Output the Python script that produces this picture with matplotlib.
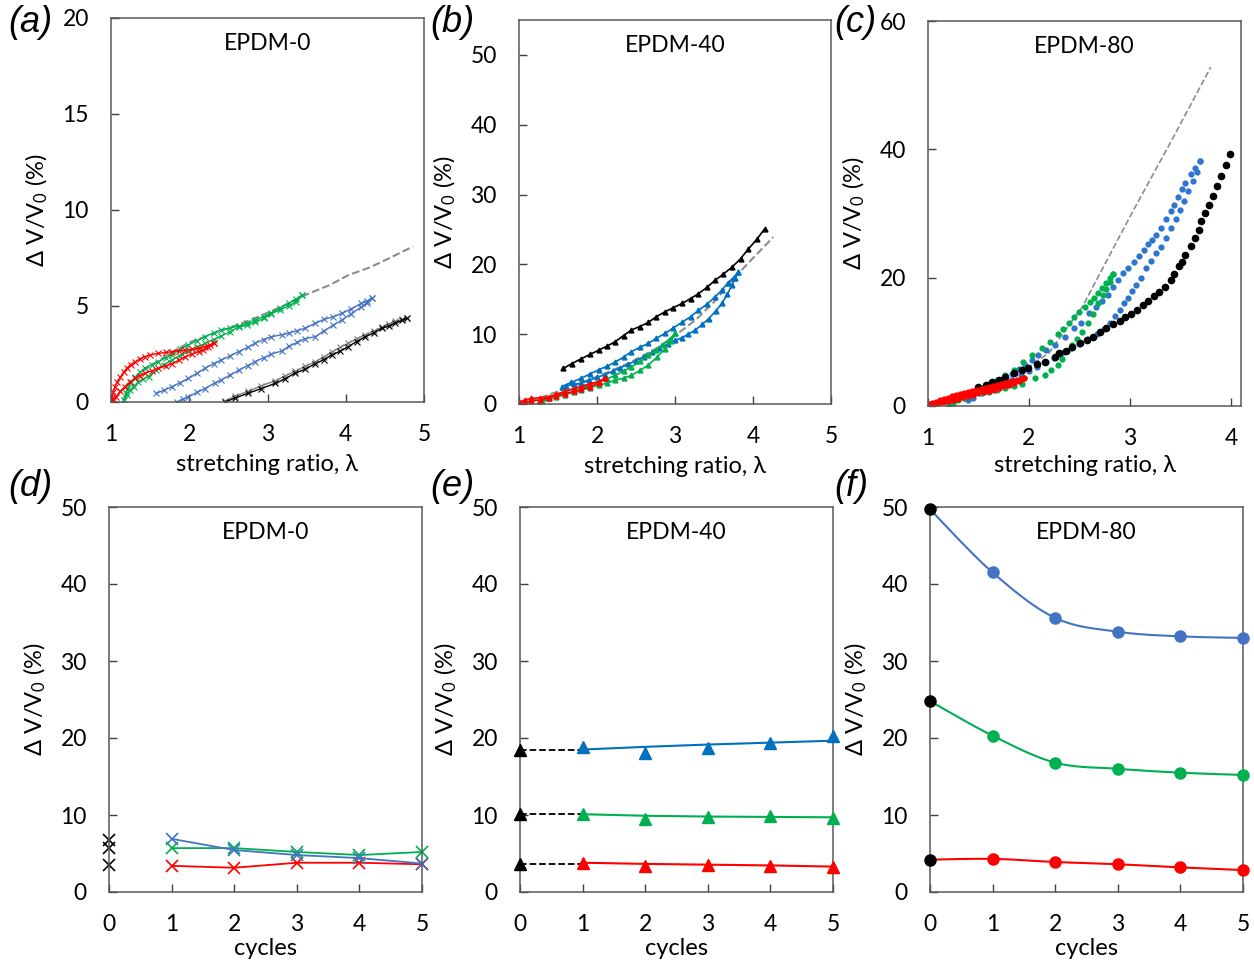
import numpy as np
import matplotlib
matplotlib.use("Agg")
import matplotlib.pyplot as plt

plt.rcParams['font.family'] = ['Lato', 'DejaVu Sans']
plt.rcParams['mathtext.fontset'] = 'custom'
plt.rcParams['mathtext.rm'] = 'Lato'
plt.rcParams['mathtext.it'] = 'Lato:italic'

RED = '#FF0000'
GREEN = '#00B050'
BLUE_A = '#4472C4'
BLUE_B = '#0070C0'
BLUE_C = '#2E75D0'
GRAY = '#8C8C8C'

# ---------------- (a) EPDM-0 ----------------
a_dash_x = [1.0, 1.2, 1.4, 1.7, 2.0, 2.4, 2.8, 3.2, 3.5, 3.8, 4.03, 4.3, 4.46, 4.86]
a_dash_y = [0.0, 0.9, 1.6, 2.4, 3.1, 3.7, 4.3, 5.0, 5.6, 6.1, 6.6, 7.0, 7.3, 8.1]

a_red_up_x = [1.00, 1.01, 1.03, 1.05, 1.08, 1.12, 1.16, 1.20, 1.25, 1.31, 1.37, 1.43, 1.50, 1.60, 1.70, 1.78, 1.87, 1.95, 2.04, 2.12, 2.20, 2.26, 2.31]
a_red_up_y = [0.0, 0.2, 0.5, 0.8, 1.05, 1.3, 1.55, 1.75, 1.95, 2.1, 2.25, 2.36, 2.45, 2.53, 2.58, 2.62, 2.66, 2.7, 2.74, 2.8, 2.88, 2.97, 3.06]
a_red_dn_x = [2.31, 2.24, 2.18, 2.12, 2.04, 1.95, 1.87, 1.78, 1.70, 1.60, 1.52, 1.43, 1.37, 1.31, 1.24, 1.18, 1.12, 1.07, 1.03, 1.01]
a_red_dn_y = [3.06, 2.85, 2.72, 2.62, 2.5, 2.36, 2.18, 2.0, 1.88, 1.75, 1.62, 1.5, 1.38, 1.23, 1.02, 0.8, 0.55, 0.28, 0.1, 0.0]

a_grn_up_x = [1.16, 1.19, 1.22, 1.26, 1.31, 1.37, 1.43, 1.52, 1.60, 1.70, 1.78, 1.88, 1.99, 2.10, 2.20, 2.31, 2.41, 2.52, 2.63, 2.74, 2.84, 2.95, 3.05, 3.16, 3.27, 3.36, 3.44]
a_grn_up_y = [0.1, 0.45, 0.75, 1.05, 1.3, 1.55, 1.75, 1.95, 2.1, 2.3, 2.45, 2.75, 2.97, 3.2, 3.4, 3.6, 3.75, 3.85, 3.95, 4.1, 4.27, 4.45, 4.65, 4.9, 5.14, 5.35, 5.57]
a_grn_dn_x = [3.44, 3.36, 3.27, 3.16, 3.05, 2.95, 2.84, 2.74, 2.63, 2.52, 2.41, 2.31, 2.20, 2.10, 1.99, 1.88, 1.78, 1.68, 1.58, 1.48, 1.41, 1.35, 1.29, 1.24, 1.20, 1.16]
a_grn_dn_y = [5.57, 5.2, 5.0, 4.8, 4.6, 4.35, 4.15, 4.0, 3.9, 3.65, 3.45, 3.25, 3.06, 2.85, 2.65, 2.42, 2.19, 1.95, 1.65, 1.32, 1.2, 1.06, 0.8, 0.6, 0.35, 0.1]

a_blu_up_x = [1.58, 1.68, 1.78, 1.88, 1.99, 2.10, 2.20, 2.31, 2.41, 2.52, 2.63, 2.75, 2.84, 2.95, 3.05, 3.18, 3.27, 3.38, 3.48, 3.61, 3.72, 3.84, 3.95, 4.07, 4.20, 4.27, 4.33]
a_blu_up_y = [0.45, 0.62, 0.8, 1.0, 1.23, 1.5, 1.75, 2.0, 2.19, 2.4, 2.62, 2.85, 3.06, 3.25, 3.4, 3.5, 3.58, 3.72, 3.84, 4.1, 4.3, 4.44, 4.62, 4.85, 5.14, 5.25, 5.4]
a_blu_dn_x = [4.33, 4.27, 4.20, 4.07, 3.95, 3.84, 3.72, 3.61, 3.48, 3.38, 3.27, 3.18, 3.05, 2.95, 2.84, 2.75, 2.63, 2.52, 2.41, 2.33, 2.20, 2.10, 1.99, 1.92, 1.84]
a_blu_dn_y = [5.4, 5.15, 4.95, 4.6, 4.27, 4.0, 3.7, 3.4, 3.3, 3.1, 2.9, 2.65, 2.5, 2.3, 2.1, 1.9, 1.65, 1.4, 1.15, 1.0, 0.7, 0.5, 0.28, 0.15, 0.0]

a_blk_x = [2.46, 2.58, 2.75, 2.92, 3.10, 3.22, 3.35, 3.48, 3.61, 3.72, 3.82, 3.93, 4.03, 4.14, 4.25, 4.36, 4.46, 4.55, 4.63, 4.72, 4.78]
a_blk_y = [0.0, 0.2, 0.45, 0.7, 0.97, 1.2, 1.5, 1.7, 2.0, 2.2, 2.45, 2.65, 2.88, 3.15, 3.4, 3.6, 3.84, 3.95, 4.1, 4.25, 4.36]
a_blk2_y = [0.05, 0.3, 0.55, 0.85, 1.1, 1.35, 1.6, 1.85, 2.1, 2.35, 2.6, 2.85, 3.05, 3.3, 3.5, 3.7, 3.9, 4.05, 4.2, 4.3, 4.4]

# ---------------- (b) EPDM-40 ----------------
b_dash_x = [1.0, 1.3, 1.6, 2.0, 2.4, 2.8, 3.0, 3.26, 3.5, 3.73, 4.0, 4.26]
b_dash_y = [0.0, 1.0, 2.2, 3.9, 5.8, 8.2, 9.8, 12.0, 14.6, 17.7, 20.9, 23.9]

b_blk_x = [1.57, 1.68, 1.80, 1.91, 2.02, 2.13, 2.23, 2.34, 2.44, 2.55, 2.66, 2.76, 2.87, 2.98, 3.09, 3.20, 3.30, 3.41, 3.51, 3.62, 3.73, 3.84, 3.94, 4.05, 4.15]
b_blk_y = [5.1, 5.8, 6.5, 7.1, 7.7, 8.3, 8.9, 9.8, 10.6, 11.1, 11.7, 12.5, 13.2, 13.8, 14.4, 15.1, 15.8, 16.7, 17.7, 18.6, 19.6, 20.8, 22.2, 23.6, 25.1]

b_blu_up_x = [1.55, 1.67, 1.80, 1.91, 2.02, 2.13, 2.23, 2.34, 2.44, 2.55, 2.66, 2.76, 2.87, 2.98, 3.09, 3.20, 3.30, 3.41, 3.51, 3.60, 3.68, 3.75, 3.81]
b_blu_up_y = [2.5, 3.1, 3.7, 4.3, 4.9, 5.4, 6.0, 6.7, 7.5, 8.1, 8.7, 9.4, 10.1, 10.9, 11.7, 12.5, 13.4, 14.3, 15.3, 16.3, 17.4, 18.1, 18.9]
b_blu_dn_x = [3.81, 3.77, 3.73, 3.67, 3.60, 3.52, 3.43, 3.35, 3.26, 3.17, 3.09, 3.00, 2.91, 2.80, 2.70, 2.60, 2.50, 2.40, 2.30, 2.20, 2.10, 2.00, 1.90, 1.80, 1.70, 1.60]
b_blu_dn_y = [18.9, 18.0, 17.0, 15.7, 14.4, 13.3, 12.2, 11.4, 10.6, 10.0, 9.5, 9.1, 8.6, 8.0, 7.4, 6.8, 6.2, 5.7, 5.2, 4.7, 4.2, 3.8, 3.4, 3.0, 2.8, 2.6]

b_grn_up_x = [1.25, 1.35, 1.46, 1.59, 1.72, 1.85, 2.02, 2.13, 2.23, 2.34, 2.44, 2.55, 2.66, 2.75, 2.83, 2.92, 3.00]
b_grn_up_y = [0.1, 0.8, 1.3, 1.8, 2.2, 2.6, 3.2, 3.6, 4.1, 4.7, 5.3, 6.1, 7.0, 7.7, 8.4, 9.2, 10.1]
b_grn_dn_x = [3.00, 2.95, 2.87, 2.77, 2.66, 2.55, 2.44, 2.34, 2.23, 2.13, 2.02, 1.91, 1.80, 1.70, 1.59, 1.48, 1.38, 1.30, 1.25]
b_grn_dn_y = [10.1, 9.0, 7.9, 6.7, 5.6, 4.8, 4.1, 3.7, 3.4, 3.0, 2.7, 2.35, 2.0, 1.7, 1.3, 1.0, 0.8, 0.4, 0.1]

b_red_up_x = [1.00, 1.08, 1.16, 1.27, 1.38, 1.48, 1.59, 1.70, 1.80, 1.91, 2.02, 2.10]
b_red_up_y = [0.3, 0.6, 0.8, 0.9, 1.0, 1.4, 1.8, 2.2, 2.5, 2.9, 3.2, 3.7]
b_red_dn_x = [2.10, 2.02, 1.91, 1.80, 1.70, 1.59, 1.48, 1.38, 1.27, 1.16, 1.08, 1.00]
b_red_dn_y = [3.7, 3.0, 2.5, 2.1, 1.8, 1.5, 1.2, 0.9, 0.6, 0.4, 0.2, 0.1]

# ---------------- (c) EPDM-80 ----------------
c_dash_x = [1.0, 1.5, 1.9, 2.2, 2.53, 3.0, 3.42, 3.80]
c_dash_y = [0.0, 2.2, 5.0, 8.3, 15.5, 29.5, 41.6, 52.8]

c_blk_x = [1.50, 1.57, 1.63, 1.70, 1.76, 1.85, 1.93, 1.99, 2.08, 2.16, 2.26, 2.30, 2.37, 2.43, 2.51, 2.57, 2.63, 2.70, 2.76, 2.83, 2.90, 2.95, 3.01,
           3.07, 3.13, 3.18, 3.24, 3.29, 3.35, 3.41, 3.44, 3.49, 3.52, 3.55, 3.60, 3.64, 3.68, 3.70, 3.74, 3.78, 3.82, 3.86, 3.90, 3.95, 3.99]
c_blk_y = [2.9, 3.3, 3.8, 4.1, 4.5, 5.1, 5.6, 6.0, 6.6, 6.9, 7.7, 8.2, 8.6, 9.2, 9.8, 10.3, 10.7, 11.5, 12.1, 12.8, 13.3, 13.9, 14.4,
           15.0, 15.7, 16.4, 17.1, 17.7, 18.6, 19.7, 20.5, 21.8, 22.5, 23.6, 24.9, 26.2, 27.5, 28.8, 30.1, 31.4, 32.8, 34.3, 35.9, 37.5, 39.2]

c_blu_up_x = [1.37, 1.45, 1.50, 1.58, 1.66, 1.75, 1.83, 1.90, 1.96, 2.03, 2.09, 2.17, 2.26, 2.36, 2.45, 2.52, 2.59, 2.66, 2.72, 2.78,
              2.83, 2.88, 2.93, 2.98, 3.04, 3.09, 3.14, 3.18, 3.22, 3.26, 3.31, 3.36, 3.41, 3.44, 3.48, 3.52, 3.55, 3.60, 3.64, 3.69]
c_blu_up_y = [1.2, 1.8, 2.2, 2.9, 3.5, 4.3, 5.0, 5.8, 6.4, 7.2, 8.0, 8.75, 9.5, 10.8, 12.1, 12.9, 14.5, 15.4, 16.3, 17.3,
              18.5, 19.7, 20.7, 21.5, 22.5, 23.3, 24.3, 25.3, 25.9, 26.7, 27.8, 29.1, 30.4, 31.4, 32.5, 33.8, 34.8, 36.1, 37.1, 38.2]
c_blu_dn_x = [3.69, 3.66, 3.62, 3.58, 3.54, 3.50, 3.46, 3.41, 3.36, 3.31, 3.26, 3.21, 3.16, 3.11, 3.06, 3.02, 2.98, 2.94, 2.90,
              2.85, 2.80, 2.74, 2.67, 2.58, 2.50, 2.42, 2.33, 2.25, 2.17, 2.08, 2.00, 1.92, 1.83, 1.73, 1.63, 1.53, 1.45, 1.40]
c_blu_dn_y = [38.2, 36.5, 35.0, 33.5, 32.0, 30.6, 29.2, 27.7, 26.2, 24.8, 23.8, 22.6, 21.5, 20.0, 18.9, 17.9, 16.9, 16.0, 15.0,
              14.0, 12.9, 12.0, 11.2, 10.4, 9.7, 9.0, 8.2, 7.5, 6.9, 6.1, 5.5, 4.9, 4.1, 3.3, 2.6, 2.0, 1.3, 0.9]

c_grn_up_x = [1.20, 1.27, 1.35, 1.43, 1.52, 1.60, 1.68, 1.76, 1.85, 1.94, 2.03, 2.13, 2.21, 2.29, 2.34, 2.40, 2.45, 2.50,
              2.55, 2.60, 2.64, 2.68, 2.72, 2.76, 2.80, 2.83]
c_grn_up_y = [0.4, 0.9, 1.5, 2.2, 2.8, 3.5, 4.0, 4.8, 5.6, 6.9, 8.0, 9.0, 10.0, 11.2, 12.0, 13.0, 13.9, 14.6,
              15.4, 16.2, 16.9, 17.6, 18.4, 19.2, 19.9, 20.5]
c_grn_dn_x = [2.83, 2.80, 2.76, 2.73, 2.68, 2.63, 2.58, 2.53, 2.48, 2.43, 2.38, 2.33, 2.29, 2.22, 2.16, 2.06, 1.93, 1.85,
              1.76, 1.68, 1.60, 1.52, 1.43, 1.36, 1.30, 1.25, 1.21]
c_grn_dn_y = [20.5, 19.4, 18.3, 17.3, 16.0, 14.4, 12.9, 11.6, 10.5, 9.5, 8.5, 7.3, 6.4, 5.6, 4.8, 4.3, 3.5, 3.1,
              2.8, 2.5, 2.2, 2.0, 1.7, 1.3, 0.9, 0.5, 0.2]

c_red_up_x = [1.00, 1.04, 1.08, 1.12, 1.16, 1.20, 1.24, 1.28, 1.32, 1.36, 1.40, 1.44, 1.48, 1.52, 1.56, 1.60, 1.64, 1.68,
              1.72, 1.76, 1.80, 1.84, 1.88, 1.92, 1.95]
c_red_up_y = [0.3, 0.5, 0.7, 0.9, 1.1, 1.3, 1.5, 1.7, 1.9, 2.05, 2.2, 2.35, 2.5, 2.65, 2.8, 2.95, 3.1, 3.25,
              3.4, 3.55, 3.7, 3.85, 4.0, 4.2, 4.4]
c_red_dn_x = [1.95, 1.90, 1.85, 1.80, 1.75, 1.70, 1.65, 1.60, 1.55, 1.50, 1.45, 1.40, 1.35, 1.30, 1.25, 1.20, 1.15, 1.10, 1.05, 1.00]
c_red_dn_y = [4.4, 3.95, 3.6, 3.3, 3.05, 2.8, 2.55, 2.35, 2.15, 1.95, 1.75, 1.55, 1.35, 1.15, 0.95, 0.75, 0.6, 0.45, 0.3, 0.2]

# ---------------- cycles (d, e, f) ----------------
cycles = [0, 1, 2, 3, 4, 5]

d_black0 = [6.8, 5.7, 3.5]
d_blue = [6.9, 5.45, 4.8, 4.4, 3.7]
d_green = [5.7, 5.7, 5.2, 4.8, 5.2]
d_red = [3.4, 3.15, 3.8, 3.8, 3.6]

e_black0 = [18.4, 10.1, 3.7]
e_blue = [18.8, 18.0, 18.7, 19.4, 20.3]
e_green = [10.1, 9.5, 9.7, 9.9, 9.65]
e_red = [3.8, 3.4, 3.5, 3.4, 3.2]
e_blue_fit = [18.5, 18.85, 19.15, 19.4, 19.65]
e_green_fit = [10.1, 9.9, 9.8, 9.75, 9.7]
e_red_fit = [3.8, 3.65, 3.55, 3.45, 3.3]

f_blue = [49.7, 41.5, 35.6, 33.8, 33.2, 33.0]
f_green = [24.8, 20.3, 16.8, 16.0, 15.5, 15.2]
f_red = [4.2, 4.3, 3.9, 3.6, 3.2, 2.85]

YLABEL = r'Δ V/V$_\mathrm{0}$ (%)'


def smooth(xs, ys, n=24):
    # Catmull-Rom curve through the points, like Excel's smoothed line
    pts = np.column_stack([xs, ys]).astype(float)
    p = np.vstack([pts[0], pts, pts[-1]])
    t = np.linspace(0, 1, n, endpoint=False)[:, None]
    out = []
    for i in range(1, len(p) - 2):
        p0, p1, p2, p3 = p[i - 1], p[i], p[i + 1], p[i + 2]
        out.append(0.5 * (2 * p1 + (-p0 + p2) * t + (2 * p0 - 5 * p1 + 4 * p2 - p3) * t ** 2
                          + (-p0 + 3 * p1 - 3 * p2 + p3) * t ** 3))
    out.append(pts[-1:])
    res = np.vstack(out)
    return res[:, 0], res[:, 1]


def style(ax, xlim, ylim, xticks, yticks, xlabel, title, xlab_y):
    ax.set_xlim(xlim)
    ax.set_ylim(ylim)
    ax.set_xticks(xticks)
    ax.set_yticks(yticks)
    ax.tick_params(direction='in', length=6, width=1, labelsize=16.5, color='#404040')
    ax.tick_params(axis='x', pad=16)
    ax.tick_params(axis='y', pad=16)
    for s in ax.spines.values():
        s.set_color('#595959')
        s.set_linewidth(1.1)
    ax.set_xlabel(xlabel, fontsize=17, va='center')
    ax.set_ylabel(YLABEL, fontsize=17)
    ax.yaxis.set_label_coords(-0.195, 0.5)
    ax.xaxis.set_label_coords(0.5, xlab_y)
    ax.text(0.5, 1 - 25 / 384, title, transform=ax.transAxes, ha='center', va='center', fontsize=16.5)


fig = plt.figure(figsize=(12.54, 9.68), dpi=100)
W, H = 1254, 968


def add_ax(left, top, right, bottom):
    return fig.add_axes([left / W, 1 - bottom / H, (right - left) / W, (bottom - top) / H])


ax_a = add_ax(111, 18, 424, 402)
ax_b = add_ax(519, 20, 831, 404)
ax_c = add_ax(928, 21, 1241, 406)
ax_d = add_ax(109, 507, 422, 892)
ax_e = add_ax(520, 507, 833, 892)
ax_f = add_ax(930, 507, 1243, 892)

LAMBDA = 'stretching ratio, λ'

# (a)
ax = ax_a
ax.plot(a_dash_x, a_dash_y, '--', color=GRAY, lw=1.5, zorder=1)
kw = dict(marker='x', ms=5, mew=0.8, lw=1.0)
ax.plot(a_blk_x, a_blk2_y, color='#7F7F7F', **kw)
ax.plot(a_blk_x, a_blk_y, color='black', **kw)
ax.plot(a_blu_up_x, a_blu_up_y, color=BLUE_A, **kw)
ax.plot(a_blu_dn_x, a_blu_dn_y, color=BLUE_A, **kw)
ax.plot(a_grn_up_x, a_grn_up_y, color=GREEN, **kw)
ax.plot(a_grn_dn_x, a_grn_dn_y, color=GREEN, **kw)
ax.plot(a_red_up_x, a_red_up_y, color=RED, **kw)
ax.plot(a_red_dn_x, a_red_dn_y, color=RED, **kw)
style(ax, (1, 5), (0, 20), [1, 2, 3, 4, 5], [0, 5, 10, 15, 20], LAMBDA, 'EPDM-0', -0.164)

# (b)
ax = ax_b
ax.plot(b_dash_x, b_dash_y, '--', color=GRAY, lw=1.5, zorder=1)
kw = dict(marker='^', ms=3.5, lw=1.2)
ax.plot(b_blk_x, b_blk_y, color='black', **kw)
ax.plot(b_blu_up_x, b_blu_up_y, color=BLUE_B, **kw)
ax.plot(b_blu_dn_x, b_blu_dn_y, color=BLUE_B, **kw)
ax.plot(b_grn_up_x, b_grn_up_y, color=GREEN, **kw)
ax.plot(b_grn_dn_x, b_grn_dn_y, color=GREEN, **kw)
ax.plot(b_red_up_x, b_red_up_y, color=RED, **kw)
ax.plot(b_red_dn_x, b_red_dn_y, color=RED, **kw)
style(ax, (1, 5), (0, 55), [1, 2, 3, 4, 5], [0, 10, 20, 30, 40, 50], LAMBDA, 'EPDM-40', -0.164)

# (c)
ax = ax_c
ax.plot(c_dash_x, c_dash_y, '--', color=GRAY, lw=1.2, zorder=1)
kw = dict(marker='o', ls='none', ms=4.5, mew=0)
ax.plot(c_blu_up_x, c_blu_up_y, color=BLUE_C, **kw)
ax.plot(c_blu_dn_x, c_blu_dn_y, color=BLUE_C, **kw)
ax.plot(c_grn_up_x, c_grn_up_y, color=GREEN, **kw)
ax.plot(c_grn_dn_x, c_grn_dn_y, color=GREEN, **kw)
ax.plot(c_blk_x, c_blk_y, color='black', marker='o', ls='none', ms=5.5, mew=0)
ax.plot(c_red_up_x, c_red_up_y, color=RED, **kw)
ax.plot(c_red_dn_x, c_red_dn_y, color=RED, **kw)
style(ax, (1, 4.1), (0, 60), [1, 2, 3, 4], [0, 20, 40, 60], LAMBDA, 'EPDM-80', -0.155)

# (d)
ax = ax_d
kw = dict(marker='x', ms=8, mew=1.2, lw=1.3, clip_on=False)
ax.plot([0] * len(d_black0), d_black0, color='black', ls='none', **kw)
ax.plot(cycles[1:], d_red, color=RED, **kw)
ax.plot(cycles[1:], d_green, color=GREEN, **kw)
ax.plot(cycles[1:], d_blue, color=BLUE_A, **kw)
style(ax, (0, 5), (0, 50), cycles, [0, 10, 20, 30, 40, 50], 'cycles', 'EPDM-0', -0.148)

# (e)
ax = ax_e
for y0 in e_black0:
    ax.plot([0, 1], [y0, y0], '--', color='black', lw=1.3)
ax.plot([0] * len(e_black0), e_black0, '^', color='black', ms=9, clip_on=False, zorder=5)
for pts, fit, col in [(e_blue, e_blue_fit, BLUE_B), (e_green, e_green_fit, GREEN), (e_red, e_red_fit, RED)]:
    ax.plot(cycles[1:], fit, color=col, lw=1.5)
    ax.plot(cycles[1:], pts, '^', color=col, ms=9, clip_on=False, zorder=5)
style(ax, (0, 5), (0, 50), cycles, [0, 10, 20, 30, 40, 50], 'cycles', 'EPDM-40', -0.148)

# (f)
ax = ax_f
for vals, col in [(f_blue, BLUE_A), (f_green, GREEN), (f_red, RED)]:
    sx, sy = smooth(cycles, vals)
    ax.plot(sx, sy, color=col, lw=1.5)
    ax.plot(cycles[1:], vals[1:], 'o', color=col, ms=8, clip_on=False, zorder=5)
    ax.plot([0], [vals[0]], 'o', color='black', ms=8, clip_on=False, zorder=6)
style(ax, (0, 5), (0, 50), cycles, [0, 10, 20, 30, 40, 50], 'cycles', 'EPDM-80', -0.148)

# panel letters
lab = dict(fontsize=26, style='italic', family=['Liberation Sans', 'DejaVu Sans'], va='center', ha='left')
fig.text(8 / W, 1 - 23 / H, '(a)', **lab)
fig.text(430 / W, 1 - 23 / H, '(b)', **lab)
fig.text(834 / W, 1 - 23 / H, '(c)', **lab)
fig.text(8 / W, 1 - 487 / H, '(d)', **lab)
fig.text(430 / W, 1 - 487 / H, '(e)', **lab)
fig.text(834 / W, 1 - 487 / H, '(f)', **lab)

fig.savefig('out.png', dpi=100)
